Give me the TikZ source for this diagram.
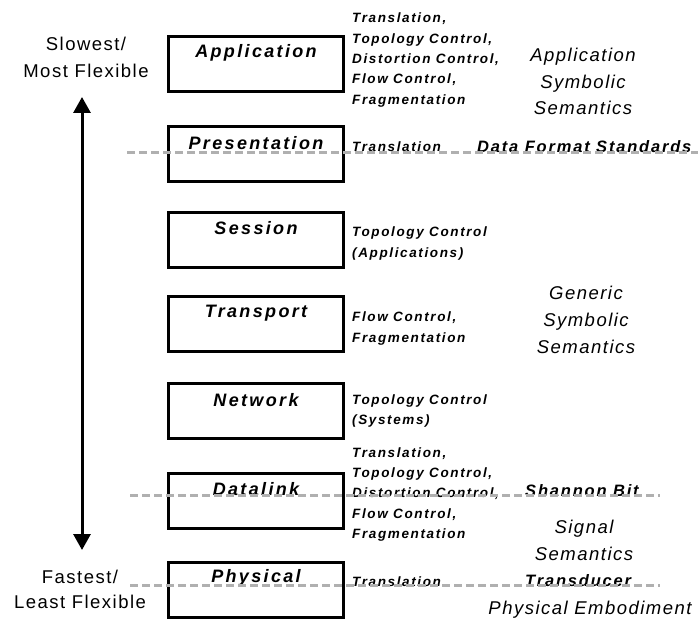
\documentclass[tikz,border=0pt]{standalone}
\usepackage{fontspec}
\setmainfont{Liberation Sans}
\newfontfamily\spacedA[LetterSpace=12]{Liberation Sans}
\newfontfamily\spacedB[LetterSpace=13]{Liberation Sans}
\newfontfamily\spacedC[LetterSpace=8]{Liberation Sans}
\newfontfamily\spacedD[LetterSpace=11]{Liberation Sans}
\usetikzlibrary{arrows.meta}
\begin{document}
\begin{tikzpicture}[x=1pt,y=-1pt,
 layer/.style={draw, line width=3pt, minimum width=175pt, minimum height=55pt, inner sep=0pt},
 layername/.style={inner sep=0pt, font=\spacedB\bfseries\itshape\fontsize{18}{20}\selectfont},
 func/.style={inner sep=0pt, anchor=west, align=left, font=\spacedA\bfseries\itshape\fontsize{13.5}{20.3}\selectfont},
 sem/.style={inner sep=0pt, align=center, font=\spacedC\itshape\fontsize{18.5}{26.8}\selectfont},
 std/.style={inner sep=0pt, anchor=west, font=\spacedD\bfseries\itshape\fontsize{16.5}{20}\selectfont},
 speed/.style={inner sep=0pt, align=center, font=\spacedC\fontsize{18.5}{26.7}\selectfont},
 level/.style={draw=black!31, line width=3pt, dash pattern=on 7.5pt off 4.5pt},
 axis/.style={line width=3pt, {Triangle[length=16pt,width=17pt]}-{Triangle[length=16pt,width=17pt]}}
]
\useasboundingbox (0,0) rectangle (700,620);

% layer boxes
\node[layer] (app)   at (256,64.5)  {};
\node[layer] (pres)  at (256,154)   {};
\node[layer] (sess)  at (256,240)   {};
\node[layer] (trans) at (256,323.5) {};
\node[layer] (net)   at (256,410.5) {};
\node[layer] (data)  at (256,500.5) {};
\node[layer] (phys)  at (256,589.5) {};

\node[layername] (appL)   at ([yshift=-17.5pt]app.north)   {Application};
\node[layername] (presL)  at ([yshift=-18pt]pres.north)    {Presentation};
\node[layername] (sessL)  at ([yshift=-17pt]sess.north)    {Session};
\node[layername] (transL) at ([yshift=-18.5pt]trans.north) {Transport};
\node[layername] (netL)   at ([yshift=-19pt]net.north)     {Network};
\node[layername] (dataL)  at ([yshift=-17.5pt]data.north)  {Datalink};
\node[layername] (physL)  at ([yshift=-17.5pt]phys.north)  {Physical};

% functions
\node[func] (appF)   at (352,60)    {Translation,\\Topology Control,\\Distortion Control,\\Flow Control,\\Fragmentation};
\node[func] (presF)  at (352,147)   {Translation};
\node[func] (sessF)  at (352,243.5) {Topology Control\\(Applications)};
\node[func] (transF) at (352,328.5) {Flow Control,\\Fragmentation};
\node[func] (netF)   at (352,411)   {Topology Control\\(Systems)};
\node[func] (dataF)  at (352,494.5) {Translation,\\Topology Control,\\Distortion Control,\\Flow Control,\\Fragmentation};
\node[func] (physF)  at (352,582)   {Translation};

% semantics
\node[sem] (appS)  at (583,81.5)  {Application\\Symbolic\\Semantics};
\node[sem] (genS)  at (586,320)   {Generic\\Symbolic\\Semantics};
\node[sem] (sigS)  at (584,540.5) {Signal\\Semantics};
\node[sem] (physS) at (590,610)   {Physical Embodiment};

\node[std] (dfs) at (477,147) {Data Format Standards};
\node[std] (shb) at (525,491) {Shannon Bit};
\node[std] (trd) at (525,581) {Transducer};

% speed axis
\node[speed] (slow) at (86,57.5) {Slowest/\\Most Flexible};
\node[speed, font=\spacedC\fontsize{18.5}{25}\selectfont] (fast) at (80,589.5) {Fastest/\\Least Flexible};
\coordinate (axTop) at (82,97);
\coordinate (axBot) at (82,550);
\draw[axis] (axBot) -- (axTop);

% boundary lines
\coordinate (l1a) at (127,152.5); \coordinate (l1b) at (698,152.5);
\coordinate (l2a) at (130,495.5); \coordinate (l2b) at (660,495.5);
\coordinate (l3a) at (130,585.5); \coordinate (l3b) at (660,585.5);
\draw[level] (l1a) -- (l1b);
\draw[level] (l2a) -- (l2b);
\draw[level] (l3a) -- (l3b);
\end{tikzpicture}
\end{document}
